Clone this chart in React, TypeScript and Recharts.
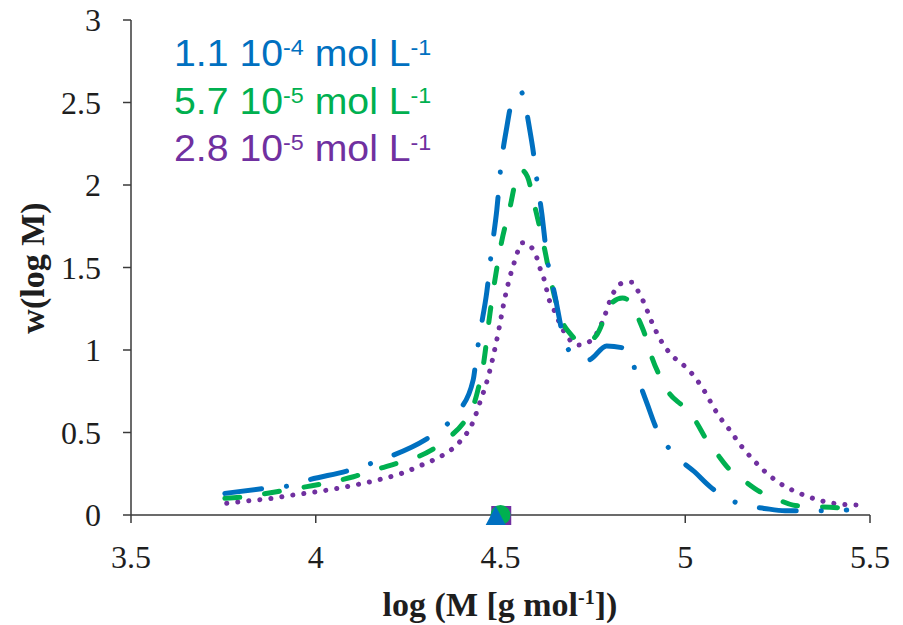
import React from "react";
import { ComposedChart, Line, Scatter, XAxis, YAxis } from "recharts";

// x ticks / y ticks
const xTicks = [3.5, 4, 4.5, 5, 5.5];
const yTicks = [0, 0.5, 1, 1.5, 2, 2.5, 3];

// legend text
const concValues = ["1.1", "5.7", "2.8"];
const concExps = ["-4", "-5", "-5"];

// 1.1e-4 mol/L (blue, dash-dot)
const highX = [
  3.754, 3.867, 3.926, 3.98, 4.088, 4.142, 4.196, 4.296, 4.344, 4.386, 4.426,
  4.436, 4.445, 4.463, 4.476, 4.49, 4.501, 4.517, 4.528, 4.555, 4.58, 4.589,
  4.596, 4.612, 4.625, 4.648, 4.67, 4.697, 4.738, 4.787, 4.837, 4.878, 4.898,
  4.918, 4.977, 5.025, 5.067, 5.157, 5.214, 5.27, 5.383, 5.437,
];
const highY = [
  0.131, 0.162, 0.176, 0.212, 0.269, 0.307, 0.35, 0.455, 0.529, 0.626, 0.818,
  0.98, 1.11, 1.353, 1.606, 1.848, 2.111, 2.35, 2.479, 2.565, 2.323, 2.196,
  2.07, 1.824, 1.576, 1.323, 1.08, 0.97, 0.94, 1.024, 1.01, 0.788, 0.667,
  0.545, 0.353, 0.262, 0.172, 0.06, 0.04, 0.026, 0.026, 0.03,
];

// 5.7e-5 mol/L (green, dashed)
const midX = [
  3.754, 3.809, 3.894, 3.976, 4.102, 4.174, 4.219, 4.314, 4.363, 4.399, 4.426,
  4.44, 4.4535, 4.4715, 4.503, 4.526, 4.544, 4.557, 4.573, 4.593, 4.618, 4.638,
  4.665, 4.688, 4.724, 4.76, 4.8, 4.83, 4.855, 4.873, 4.896, 4.909, 4.932,
  4.954, 4.995, 5.026, 5.058, 5.085, 5.121, 5.157, 5.202, 5.243, 5.292, 5.338,
  5.392, 5.441,
];
const midY = [
  0.101, 0.111, 0.141, 0.172, 0.232, 0.283, 0.313, 0.394, 0.475, 0.556, 0.657,
  0.768, 0.909, 1.222, 1.656, 1.868, 2.05, 2.09, 2.05, 1.868, 1.626, 1.404,
  1.182, 1.101, 1.04, 1.09, 1.283, 1.315, 1.283, 1.192, 1.06, 0.96, 0.838,
  0.747, 0.656, 0.576, 0.455, 0.374, 0.273, 0.212, 0.141, 0.101, 0.06, 0.05,
  0.047, 0.04,
];

// 2.8e-5 mol/L (purple, dotted)
const lowX = [
  3.759, 3.822, 3.881, 3.939, 4.003, 4.061, 4.12, 4.178, 4.233, 4.291, 4.345,
  4.39, 4.426, 4.445, 4.463, 4.4715, 4.485, 4.497, 4.508, 4.521, 4.537, 4.56,
  4.582, 4.598, 4.607, 4.618, 4.632, 4.645, 4.657, 4.684, 4.711, 4.747, 4.774,
  4.805, 4.828, 4.855, 4.873, 4.887, 4.909, 4.936, 4.972, 4.995, 5.017, 5.035,
  5.053, 5.081, 5.099, 5.117, 5.153, 5.189, 5.211, 5.256, 5.31, 5.36, 5.414,
  5.473,
];
const lowY = [
  0.071, 0.087, 0.101, 0.121, 0.141, 0.162, 0.188, 0.218, 0.253, 0.307, 0.364,
  0.444, 0.566, 0.687, 0.808, 0.879, 1.01, 1.141, 1.273, 1.404, 1.529, 1.65,
  1.626, 1.561, 1.495, 1.428, 1.303, 1.242, 1.178, 1.071, 1.03, 1.06, 1.162,
  1.344, 1.404, 1.41, 1.354, 1.293, 1.172, 1.05, 0.95, 0.909, 0.859, 0.808,
  0.747, 0.636, 0.576, 0.525, 0.414, 0.323, 0.273, 0.192, 0.131, 0.091, 0.067,
  0.06,
];

// markers on the baseline (triangle, circle, square)
const markerX = [4.487, 4.5, 4.502];
const markerY = [0, 0, 0];

const colors = ["#0070C0", "#00B050", "#7030A0"];
const axisColor = "#3a3a3a";
const serif = "'Liberation Serif', 'Times New Roman', serif";
const sans = "'Liberation Sans', Arial, sans-serif";

const toPoints = (xs: number[], ys: number[]) =>
  xs.map((x, i) => ({ x, y: ys[i] }));

const tickStyle = { fontFamily: serif, fontSize: 32, fill: "#1e1e1e" };

const Triangle = (p: any) => (
  <polygon
    points={`${p.cx},${p.cy - 9} ${p.cx + 10},${p.cy + 10} ${p.cx - 10},${p.cy + 10}`}
    fill={colors[0]}
  />
);
const Circle = (p: any) => <circle cx={p.cx} cy={p.cy} r={10} fill={colors[1]} />;
const Square = (p: any) => (
  <rect x={p.cx - 10} y={p.cy - 9} width={20} height={19} fill={colors[2]} />
);

const supStyle: React.CSSProperties = { fontSize: 22, verticalAlign: "11px" };

export default function App() {
  return (
    <div style={{ position: "absolute", left: 0, top: 0, width: 903, height: 625, background: "#fff" }}>
      <ComposedChart width={903} height={625} margin={{ top: 20, right: 33, left: 0, bottom: 0 }}>
        <XAxis
          type="number"
          dataKey="x"
          domain={[3.5, 5.5]}
          ticks={xTicks}
          height={110}
          tickSize={8}
          tickMargin={22}
          tick={tickStyle}
          stroke={axisColor}
          strokeWidth={1.5}
        />
        <YAxis
          type="number"
          dataKey="y"
          domain={[0, 3]}
          ticks={yTicks}
          width={131}
          tickSize={8}
          tickMargin={22}
          tick={tickStyle}
          stroke={axisColor}
          strokeWidth={1.5}
        />
        <Line
          data={toPoints(lowX, lowY)}
          dataKey="y"
          type="monotone"
          stroke={colors[2]}
          strokeWidth={5}
          strokeDasharray="0.1 11"
          strokeLinecap="round"
          dot={false}
          isAnimationActive={false}
        />
        <Line
          data={toPoints(midX, midY)}
          dataKey="y"
          type="monotone"
          stroke={colors[1]}
          strokeWidth={5}
          strokeDasharray="15 25"
          strokeLinecap="round"
          dot={false}
          isAnimationActive={false}
        />
        <Line
          data={toPoints(highX, highY)}
          dataKey="y"
          type="monotone"
          stroke={colors[0]}
          strokeWidth={5}
          strokeDasharray="37 25 0.1 25"
          strokeLinecap="round"
          dot={false}
          isAnimationActive={false}
        />
        <Scatter data={[{ x: markerX[2], y: markerY[2] }]} shape={Square} isAnimationActive={false} />
        <Scatter data={[{ x: markerX[1], y: markerY[1] }]} shape={Circle} isAnimationActive={false} />
        <Scatter data={[{ x: markerX[0], y: markerY[0] }]} shape={Triangle} isAnimationActive={false} />
      </ComposedChart>

      {concValues.map((v, i) => (
        <div
          key={v + i}
          style={{
            position: "absolute",
            left: 174,
            top: 27 + i * 47.5,
            fontFamily: sans,
            fontSize: 37,
            lineHeight: "42px",
            color: colors[i],
            whiteSpace: "nowrap",
            transform: "scaleX(1.06)",
            transformOrigin: "left",
          }}
        >
          {v} 10<span style={supStyle}>{concExps[i]}</span> mol L<span style={supStyle}>-1</span>
        </div>
      ))}

      <div
        style={{
          position: "absolute",
          left: 33,
          top: 268,
          transform: "translate(-50%, -50%) rotate(-90deg)",
          fontFamily: serif,
          fontWeight: "bold",
          fontSize: 34,
          lineHeight: "34px",
          whiteSpace: "nowrap",
          color: "#1e1e1e",
        }}
      >
        w(log M)
      </div>
      <div
        style={{
          position: "absolute",
          left: 500,
          top: 580,
          transform: "translateX(-50%)",
          fontFamily: serif,
          fontWeight: "bold",
          fontSize: 34,
          lineHeight: "34px",
          whiteSpace: "nowrap",
          color: "#1e1e1e",
        }}
      >
        log (M [g mol<span style={{ fontSize: 20, verticalAlign: "12px" }}>-1</span>])
      </div>
    </div>
  );
}
